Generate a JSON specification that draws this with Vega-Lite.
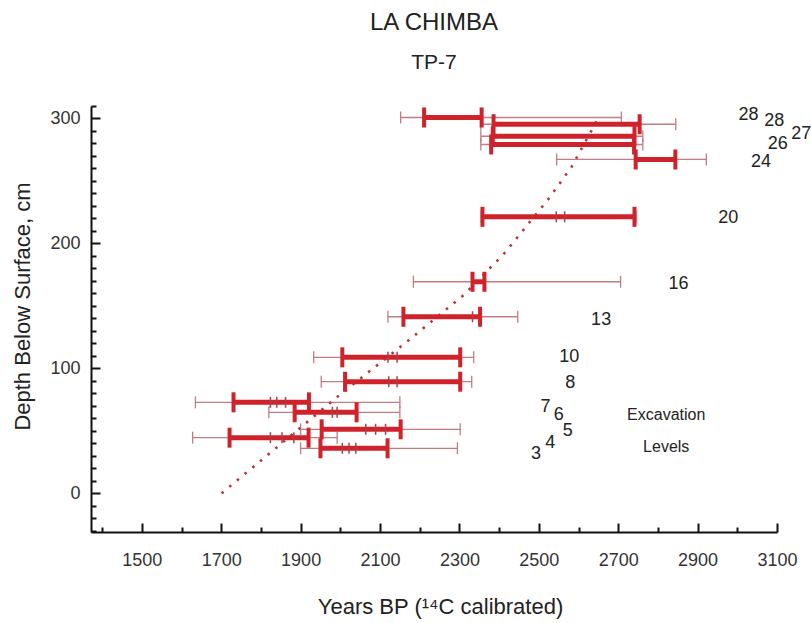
{
  "$schema": "https://vega.github.io/schema/vega-lite/v6.json",
  "width": 686,
  "height": 426,
  "autosize": {"type": "none"},
  "padding": {"left": 91, "top": 106, "right": 34, "bottom": 91},
  "background": "white",
  "config": {
    "view": {"stroke": null},
    "tick": {"opacity": 1},
    "axis": {
      "grid": false,
      "domainColor": "#111111",
      "domainWidth": 2,
      "tickColor": "#111111",
      "tickWidth": 2,
      "labelColor": "#333333",
      "titleColor": "#222222",
      "labelFont": "Liberation Sans Narrow, Liberation Sans",
      "labelFontSize": 18,
      "titleFont": "Liberation Sans",
      "titleFontSize": 22,
      "titleFontWeight": "normal",
      "labelOverlap": false,
      "labelFlush": false,
      "format": "d"
    }
  },
  "title": {
    "text": "LA CHIMBA",
    "subtitle": "TP-7",
    "font": "Liberation Sans",
    "subtitleFont": "Liberation Sans",
    "fontSize": 24,
    "subtitleFontSize": 21,
    "fontWeight": "normal",
    "color": "#222222",
    "subtitleColor": "#222222",
    "anchor": "middle",
    "offset": 32,
    "subtitlePadding": 17
  },
  "datasets": {
    "dates": [
      {"level": "28", "depth": 300.8, "s1": 2211, "s2": 2356, "t1": 2152, "t2": 2708},
      {"level": "28", "depth": 295.4, "s1": 2386, "s2": 2754, "t1": 2354, "t2": 2845},
      {"level": "27", "depth": 285.8, "s1": 2384, "s2": 2741, "t1": 2354, "t2": 2762},
      {"level": "26", "depth": 279.2, "s1": 2380, "s2": 2740, "t1": 2354, "t2": 2762},
      {"level": "24", "depth": 267.2, "s1": 2744, "s2": 2844, "t1": 2545, "t2": 2922},
      {"level": "20", "depth": 221.3, "s1": 2358, "s2": 2741, "t1": 2355, "t2": 2745},
      {"level": "16", "depth": 169.3, "s1": 2333, "s2": 2363, "t1": 2184, "t2": 2706},
      {"level": "13", "depth": 141.3, "s1": 2159, "s2": 2352, "t1": 2120, "t2": 2447},
      {"level": "10", "depth": 108.8, "s1": 2005, "s2": 2302, "t1": 1933, "t2": 2336},
      {"level": "8", "depth": 89.3, "s1": 2012, "s2": 2302, "t1": 1952, "t2": 2331},
      {"level": "7", "depth": 72.8, "s1": 1731, "s2": 1921, "t1": 1635, "t2": 2150},
      {"level": "6", "depth": 64.8, "s1": 1885, "s2": 2041, "t1": 1820, "t2": 2150},
      {"level": "5", "depth": 51.2, "s1": 1953, "s2": 2152, "t1": 1900, "t2": 2302},
      {"level": "4", "depth": 44.5, "s1": 1721, "s2": 1920, "t1": 1628, "t2": 1992},
      {"level": "3", "depth": 36.0, "s1": 1950, "s2": 2119, "t1": 1900, "t2": 2295}
    ],
    "inner": [
      {"depth": 221.3, "yr": 2544}, {"depth": 221.3, "yr": 2565},
      {"depth": 141.3, "yr": 2333},
      {"depth": 108.8, "yr": 2120}, {"depth": 108.8, "yr": 2143},
      {"depth": 89.3, "yr": 2122}, {"depth": 89.3, "yr": 2143},
      {"depth": 72.8, "yr": 1824}, {"depth": 72.8, "yr": 1840}, {"depth": 72.8, "yr": 1862},
      {"depth": 64.8, "yr": 1980}, {"depth": 64.8, "yr": 1992},
      {"depth": 51.2, "yr": 2064}, {"depth": 51.2, "yr": 2089}, {"depth": 51.2, "yr": 2114},
      {"depth": 44.5, "yr": 1824}, {"depth": 44.5, "yr": 1853}, {"depth": 44.5, "yr": 1883},
      {"depth": 36.0, "yr": 2005}, {"depth": 36.0, "yr": 2022}, {"depth": 36.0, "yr": 2039}
    ],
    "trend": [
      {"yr": 1701, "depth": 0},
      {"yr": 1992, "depth": 77},
      {"yr": 2178, "depth": 124},
      {"yr": 2312, "depth": 159},
      {"yr": 2413, "depth": 192},
      {"yr": 2523, "depth": 235},
      {"yr": 2582, "depth": 261},
      {"yr": 2653, "depth": 302}
    ],
    "labels": [
      {"txt": "28", "yr": 3028, "depth": 302.6},
      {"txt": "28", "yr": 3093, "depth": 297.8},
      {"txt": "27", "yr": 3161, "depth": 287.8},
      {"txt": "26", "yr": 3102, "depth": 279.2},
      {"txt": "24", "yr": 3060, "depth": 265.3},
      {"txt": "20", "yr": 2977, "depth": 220.0},
      {"txt": "16", "yr": 2852, "depth": 167.4},
      {"txt": "13", "yr": 2657, "depth": 138.6},
      {"txt": "10", "yr": 2577, "depth": 108.8},
      {"txt": "8", "yr": 2579, "depth": 88.5},
      {"txt": "7", "yr": 2517, "depth": 69.3},
      {"txt": "6", "yr": 2550, "depth": 62.6},
      {"txt": "5", "yr": 2573, "depth": 49.8},
      {"txt": "4", "yr": 2529, "depth": 40.0},
      {"txt": "3", "yr": 2493, "depth": 31.4}
    ],
    "notes": [
      {"txt": "Excavation", "yr": 2821, "depth": 62.6},
      {"txt": "Levels", "yr": 2821, "depth": 37.0}
    ]
  },
  "layer": [
    {
      "data": {"name": "dates"},
      "mark": {"type": "rule", "color": "#c27c82", "strokeWidth": 1.3},
      "encoding": {
        "x": {"field": "t1", "type": "quantitative", "scale": {"domain": [1372, 3100], "nice": false, "zero": false},
          "axis": {"orient": "bottom", "values": [1500, 1700, 1900, 2100, 2300, 2500, 2700, 2900, 3100], "ticks": false, "labelPadding": 19, "title": "Years BP (¹⁴C calibrated)", "titleX": 349, "titleY": 81, "titleBaseline": "alphabetic", "titleAlign": "center"}},
        "x2": {"field": "t2"},
        "y": {"field": "depth", "type": "quantitative", "scale": {"domain": [-31, 310], "nice": false, "zero": false},
          "axis": {"orient": "left", "values": [0, 100, 200, 300], "ticks": false, "labelPadding": 11, "title": "Depth Below Surface, cm", "titleX": -62, "titleY": 200, "titleAngle": -90, "titleBaseline": "alphabetic", "titleAlign": "center"}}
      }
    },
    {
      "data": {"name": "dates"},
      "mark": {"type": "tick", "orient": "vertical", "color": "#c27c82", "size": 12, "thickness": 1.3},
      "encoding": {
        "x": {"field": "t1", "type": "quantitative", "scale": {"domain": [1372, 3100], "nice": false, "zero": false}, "axis": null},
        "y": {"field": "depth", "type": "quantitative", "scale": {"domain": [-31, 310], "nice": false, "zero": false}, "axis": null}
      }
    },
    {
      "data": {"name": "dates"},
      "mark": {"type": "tick", "orient": "vertical", "color": "#c27c82", "size": 12, "thickness": 1.3},
      "encoding": {
        "x": {"field": "t2", "type": "quantitative", "scale": {"domain": [1372, 3100], "nice": false, "zero": false}, "axis": null},
        "y": {"field": "depth", "type": "quantitative", "scale": {"domain": [-31, 310], "nice": false, "zero": false}, "axis": null}
      }
    },
    {
      "data": {"name": "trend"},
      "mark": {"type": "line", "color": "#b8323c", "strokeWidth": 2.6, "strokeDash": [2.5, 7.5]},
      "encoding": {
        "x": {"field": "yr", "type": "quantitative", "scale": {"domain": [1372, 3100], "nice": false, "zero": false},
          "axis": {"orient": "bottom", "values": [1400, 1600, 1800, 2000, 2200, 2400, 2600, 2800, 3000], "tickSize": -5, "labels": false, "domain": false, "title": null}},
        "y": {"field": "depth", "type": "quantitative", "scale": {"domain": [-31, 310], "nice": false, "zero": false},
          "axis": {"orient": "left", "values": [-30, -20, -10, 10, 20, 30, 40, 50, 60, 70, 80, 90, 110, 120, 130, 140, 150, 160, 170, 180, 190, 210, 220, 230, 240, 250, 260, 270, 280, 290, 310], "tickSize": -5, "labels": false, "domain": false, "title": null}}
      }
    },
    {
      "data": {"name": "dates"},
      "mark": {"type": "rule", "color": "#d0222b", "strokeWidth": 5},
      "encoding": {
        "x": {"field": "s1", "type": "quantitative", "scale": {"domain": [1372, 3100], "nice": false, "zero": false},
          "axis": {"orient": "bottom", "values": [1500, 1700, 1900, 2100, 2300, 2500, 2700, 2900, 3100], "tickSize": -9, "labels": false, "domain": false, "title": null}},
        "x2": {"field": "s2"},
        "y": {"field": "depth", "type": "quantitative", "scale": {"domain": [-31, 310], "nice": false, "zero": false},
          "axis": {"orient": "left", "values": [0, 100, 200, 300], "tickSize": -9, "labels": false, "domain": false, "title": null}}
      }
    },
    {
      "data": {"name": "dates"},
      "mark": {"type": "tick", "orient": "vertical", "color": "#d0222b", "size": 20, "thickness": 4},
      "encoding": {
        "x": {"field": "s1", "type": "quantitative", "scale": {"domain": [1372, 3100], "nice": false, "zero": false}, "axis": null},
        "y": {"field": "depth", "type": "quantitative", "scale": {"domain": [-31, 310], "nice": false, "zero": false}, "axis": null}
      }
    },
    {
      "data": {"name": "dates"},
      "mark": {"type": "tick", "orient": "vertical", "color": "#d0222b", "size": 20, "thickness": 4},
      "encoding": {
        "x": {"field": "s2", "type": "quantitative", "scale": {"domain": [1372, 3100], "nice": false, "zero": false}, "axis": null},
        "y": {"field": "depth", "type": "quantitative", "scale": {"domain": [-31, 310], "nice": false, "zero": false}, "axis": null}
      }
    },
    {
      "data": {"name": "inner"},
      "mark": {"type": "tick", "orient": "vertical", "color": "#a8404a", "size": 11, "thickness": 1.5},
      "encoding": {
        "x": {"field": "yr", "type": "quantitative", "scale": {"domain": [1372, 3100], "nice": false, "zero": false}, "axis": null},
        "y": {"field": "depth", "type": "quantitative", "scale": {"domain": [-31, 310], "nice": false, "zero": false}, "axis": null}
      }
    },
    {
      "data": {"name": "labels"},
      "mark": {"type": "text", "font": "Liberation Sans", "fontSize": 18, "color": "#222222", "align": "center", "baseline": "middle"},
      "encoding": {
        "x": {"field": "yr", "type": "quantitative", "scale": {"domain": [1372, 3100], "nice": false, "zero": false}, "axis": null},
        "y": {"field": "depth", "type": "quantitative", "scale": {"domain": [-31, 310], "nice": false, "zero": false}, "axis": null},
        "text": {"field": "txt"}
      }
    },
    {
      "data": {"name": "notes"},
      "mark": {"type": "text", "font": "Liberation Sans", "fontSize": 16, "color": "#222222", "align": "center", "baseline": "middle"},
      "encoding": {
        "x": {"field": "yr", "type": "quantitative", "scale": {"domain": [1372, 3100], "nice": false, "zero": false}, "axis": null},
        "y": {"field": "depth", "type": "quantitative", "scale": {"domain": [-31, 310], "nice": false, "zero": false}, "axis": null},
        "text": {"field": "txt"}
      }
    }
  ],
  "resolve": {"axis": {"x": "independent", "y": "independent"}}
}
